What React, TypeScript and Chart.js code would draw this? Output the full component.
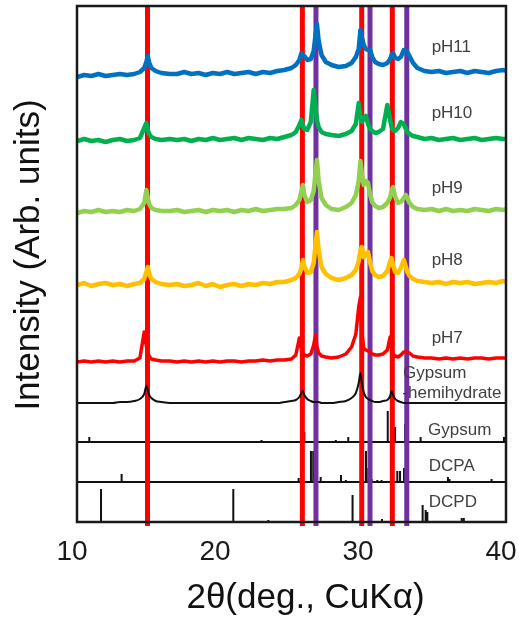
import React, { useEffect, useRef } from "react";
import { Chart, registerables } from "chart.js";

Chart.register(...registerables);

// 2θ sampling grid (deg.)
const twoTheta = [
  10, 10.5, 11, 11.5, 12, 12.5, 13, 13.5, 14,
  14.4, 14.7, 14.85, 14.95, 15.05, 15.2, 15.5, 15.9, 16.5,
  17, 17.5, 18, 18.5, 19, 19.5, 20, 20.5, 21, 21.5, 22, 22.5, 23, 23.5, 24, 24.5, 25,
  25.3, 25.55, 25.7, 25.8, 25.9, 26.1, 26.35, 26.55, 26.68, 26.78, 26.9, 27.1, 27.4, 27.8, 28.3, 28.8,
  29.2, 29.5, 29.7, 29.82, 29.92, 30.05, 30.2, 30.35, 30.5, 30.65, 30.85, 31.1, 31.4, 31.7,
  31.9, 32.0, 32.1, 32.25, 32.45, 32.65, 32.85, 33.0, 33.1, 33.25, 33.5, 33.8,
  34.3, 34.8, 35.3, 35.8, 36.3, 36.8, 37.3, 37.8, 38.3, 38.8, 39.3, 39.8, 40,
];

// Intensities (arb.) of each measured pattern, relative to its own stacking offset
const pH11 = [
  0, 2, 1, 3, 1, 2, 3, 2, 3,
  5, 9, 15, 21, 14, 9, 6, 4, 3,
  3, 5, 3, 4, 2, 4, 3, 5, 3, 4, 5, 3, 5, 4, 6, 7, 9,
  12, 17, 24, 22, 21, 17, 18, 26, 42, 53, 36, 22, 15, 12, 10, 11,
  14, 20, 28, 47, 40, 32, 28, 27, 27, 20, 15, 13, 12, 14,
  18, 22, 24, 19, 18, 20, 27, 26, 25, 21, 14, 9,
  6, 5, 6, 4, 5, 6, 4, 6, 5, 4, 6, 7, 6,
];
const pH10 = [
  1, 3, 1, 2, 0, 2, 3, 1, 2,
  4, 14, 19, 12, 8, 5, 3, 2, 3,
  2, 3, 1, 3, 2, 4, 2, 3, 4, 2, 4, 3, 2, 4, 3, 5, 7,
  10, 17, 22, 17, 13, 12, 20, 52, 35, 22, 15, 10, 8, 7, 6, 8,
  11, 18, 39, 26, 20, 24, 26, 18, 13, 11, 9, 10, 13, 37,
  22, 15, 12, 11, 14, 20, 18, 13, 10, 8, 6, 5,
  3, 4, 2, 3, 4, 2, 3, 4, 2, 3, 4, 3, 3,
];
const pH9 = [
  0, 2, 1, 3, 1, 2, 1, 3, 2,
  4, 10, 23, 15, 9, 5, 3, 2, 2,
  3, 1, 2, 3, 1, 3, 2, 3, 1, 3, 2, 4, 2, 3, 4, 4, 5,
  8, 13, 22, 28, 18, 11, 13, 22, 40, 53, 32, 15, 8, 4, 3, 6,
  10, 18, 32, 52, 40, 28, 32, 30, 18, 11, 7, 5, 6, 10,
  16, 22, 26, 16, 10, 11, 15, 18, 15, 10, 6, 4,
  3, 4, 2, 4, 2, 3, 2, 4, 3, 2, 4, 3, 4,
];
const pH8 = [
  0, 2, -1, 1, 2, 0, 1, -1, 1,
  2, 6, 13, 18, 11, 6, 3, 1, 0,
  1, -1, 0, 2, -1, 1, -2, 0, 1, -1, 1, 0, 2, 1, 3, 3, 5,
  7, 11, 17, 25, 19, 12, 13, 22, 40, 53, 35, 18, 11, 7, 5, 7,
  10, 15, 24, 35, 38, 28, 30, 33, 22, 14, 10, 8, 9, 14,
  24, 27, 20, 13, 12, 17, 25, 18, 13, 9, 6, 4,
  3, 2, 3, 1, 3, 2, 3, 1, 2, 3, 2, 4, 3,
];
const pH7 = [
  0, 1, 0, 1, 0, 1, 0, 1, 1,
  4, 30, 16, 9, 6, 3, 2, 1, 1,
  0, 1, 0, 1, 0, 1, 0, 1, 1, 0, 1, 1, 2, 1, 2, 2, 3,
  7, 24, 12, 8, 7, 6, 8, 17, 27, 15, 9, 6, 5, 4, 5, 8,
  15, 28, 55, 65, 30, 14, 12, 11, 10, 8, 7, 7, 8, 12,
  25, 14, 8, 6, 5, 7, 10, 10, 10, 9, 6, 5,
  4, 4, 3, 4, 3, 4, 3, 4, 4, 3, 4, 4, 4,
];
const hemihydrate = [
  0, 0, 0, 0, 0, 0, 1, 1, 2,
  4, 9, 17, 13, 8, 5, 2, 1, 0,
  0, 0, 0, 0, 0, 0, 0, 0, 0, 0, 0, 0, 0, 0, 0, 1, 2,
  3, 6, 10, 12, 8, 4, 2, 1, 1, 1, 1, 0, 0, 0, 1, 2,
  5, 10, 20, 30, 20, 11, 6, 4, 3, 2, 1, 1, 2, 3,
  7, 12, 8, 4, 2, 1, 0, 0, 0, 0, 0, 0,
  0, 0, 0, 0, 0, 0, 0, 0, 0, 0, 0, 0, 0,
];

const traceSeries = [pH11, pH10, pH9, pH8, pH7, hemihydrate];
const traceOffsets = [445, 380, 309, 237, 160, 119];
const traceColors = ["#0070c0", "#00b050", "#92d050", "#ffc000", "#ff0000", "#111111"];
const traceWidths = [4.5, 4.5, 4.5, 4.5, 3.5, 2];

// Reference stick patterns (2θ, relative intensity) and their offsets
const gypsumPos = [10.86, 16.85, 18.8, 21.8, 22.9, 25.9, 28.1, 28.97, 31.73, 32.24, 32.94, 34.03, 39.86];
const gypsumInt = [5, 1, 1, 1, 2, 10, 2, 5, 31, 15, 18, 5, 5];
const dcpaPos = [13.12, 17.3, 19.75, 25.5, 26.36, 26.52, 26.64, 27.04, 28.46, 28.8, 30.21, 30.37, 30.6, 31.0, 31.3, 32.4, 32.59, 32.87, 32.99, 35.94, 36.05, 38.99];
const dcpaInt = [8, 1, 1, 4, 31, 31, 14, 5, 7, 2, 31, 14, 3, 2, 2, 11, 11, 14, 7, 5, 3, 3];
const dcpdPos = [11.68, 20.93, 23.38, 29.27, 30.51, 31.33, 34.17, 34.38, 34.5, 36.9, 37.05];
const dcpdInt = [33, 33, 2, 27, 17, 3, 17, 12, 10, 4, 4];
const stickOffsets = [80, 40, 0];

// Reference marker lines (2θ)
const redLines = [14.93, 25.76, 29.91, 32.05];
const purpleLines = [26.71, 30.49, 33.06];

// In-plot labels
const labelTexts = ["pH11", "pH10", "pH9", "pH8", "pH7", "Gypsum", "-hemihydrate", "Gypsum", "DCPA", "DCPD"];
const labelTheta = [34.8, 34.8, 34.8, 34.8, 34.8, 32.8, 32.75, 34.55, 34.6, 34.6];
const labelLevel = [475, 409, 334, 262, 184, 149, 129, 92, 56, 20];

const xTicks = [10, 20, 30, 40];
const yMax = 516;
const xTitle = "2θ(deg., CuKα)";
const yTitle = "Intensity (Arb. units)";

const FONT = "'Liberation Sans', Arial, Helvetica, sans-serif";

function stickData(pos: number[], ints: number[], base: number) {
  const pts: { x: number; y: number }[] = [{ x: 10, y: base }];
  pos.forEach((p, i) => {
    pts.push({ x: p, y: base }, { x: p, y: base + ints[i] }, { x: p, y: base });
  });
  pts.push({ x: 40, y: base });
  return pts;
}

export default function App() {
  const canvasRef = useRef<HTMLCanvasElement | null>(null);

  useEffect(() => {
    document.body.style.margin = "0";
    const canvas = canvasRef.current;
    if (!canvas) return;

    const traces = traceSeries.map((vals, si) => ({
      data: twoTheta.map((t, i) => ({ x: t, y: traceOffsets[si] + vals[i] })),
      showLine: true,
      borderColor: traceColors[si],
      borderWidth: traceWidths[si],
      pointRadius: 0,
      borderJoinStyle: "round" as const,
      cubicInterpolationMode: si === 5 ? ("monotone" as const) : ("default" as const),
    }));

    const markers = [
      ...redLines.map((t) => ({ t, c: "#ff0000" })),
      ...purpleLines.map((t) => ({ t, c: "#7030a0" })),
    ].map(({ t, c }) => ({
      data: [
        { x: t, y: -4 },
        { x: t, y: yMax },
      ],
      showLine: true,
      borderColor: c,
      borderWidth: 5,
      pointRadius: 0,
      clip: 8,
    }));

    const sticks = [
      stickData(gypsumPos, gypsumInt, stickOffsets[0]),
      stickData(dcpaPos, dcpaInt, stickOffsets[1]),
      stickData(dcpdPos, dcpdInt, stickOffsets[2]),
    ].map((d) => ({
      data: d,
      showLine: true,
      borderColor: "#111111",
      borderWidth: 2,
      pointRadius: 0,
      borderJoinStyle: "bevel" as const,
    }));

    const framePlugin = {
      id: "frame",
      afterDatasetsDraw(chart: any) {
        const { ctx, chartArea } = chart;
        const { left, top, right, bottom } = chartArea;
        ctx.save();
        ctx.strokeStyle = "#1a1a1a";
        ctx.lineWidth = 2.5;
        ctx.strokeRect(left, top, right - left, bottom - top);
        ctx.restore();
      },
    };

    const labelPlugin = {
      id: "labels",
      afterDraw(chart: any) {
        const { ctx, scales, chartArea } = chart;
        ctx.save();
        ctx.font = `17px ${FONT}`;
        ctx.fillStyle = "#404040";
        ctx.textAlign = "left";
        ctx.textBaseline = "middle";
        labelTexts.forEach((txt, i) => {
          ctx.fillText(txt, scales.x.getPixelForValue(labelTheta[i]), scales.y.getPixelForValue(labelLevel[i]));
        });
        // axis titles
        ctx.font = `35px ${FONT}`;
        ctx.fillStyle = "#111111";
        ctx.textAlign = "center";
        ctx.fillText(xTitle, (chartArea.left + chartArea.right) / 2 + 14, chartArea.bottom + 76);
        ctx.translate(29, (chartArea.top + chartArea.bottom) / 2 - 9);
        ctx.rotate(-Math.PI / 2);
        ctx.fillText(yTitle, 0, 0);
        ctx.restore();
      },
    };

    const chart = new Chart(canvas, {
      type: "scatter",
      data: { datasets: [...traces, ...markers, ...sticks] as any },
      options: {
        responsive: false,
        animation: false,
        layout: { padding: { top: 6, right: 20, left: 0, bottom: 0 } },
        plugins: { legend: { display: false }, tooltip: { enabled: false } },
        scales: {
          x: {
            type: "linear",
            min: 10,
            max: 40,
            afterBuildTicks: (s: any) => {
              s.ticks = xTicks.map((v) => ({ value: v }));
            },
            afterFit: (s: any) => {
              s.height = 104;
              s.paddingLeft = 0;
              s.paddingRight = 0;
            },
            grid: { display: false, drawTicks: false },
            border: { display: false },
            ticks: {
              color: "#1a1a1a",
              font: { family: FONT, size: 28 },
              padding: 13,
              labelOffset: -5,
              maxRotation: 0,
            },
            title: { display: false, text: xTitle },
          },
          y: {
            type: "linear",
            min: 0,
            max: yMax,
            afterFit: (s: any) => {
              s.width = 77;
              s.paddingTop = 0;
              s.paddingBottom = 0;
            },
            grid: { display: false, drawTicks: false },
            border: { display: false },
            ticks: { display: false },
            title: { display: false, text: yTitle },
          },
        },
      },
      plugins: [framePlugin, labelPlugin],
    });

    return () => chart.destroy();
  }, []);

  return (
    <div style={{ width: 526, height: 626 }}>
      <canvas ref={canvasRef} width={526} height={626} />
    </div>
  );
}
